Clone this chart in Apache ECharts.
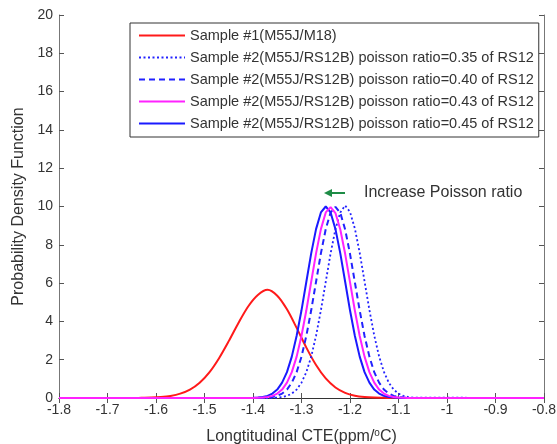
<!DOCTYPE html>
<html lang="en">
  <head>
    <meta charset="UTF-8" />
    <title>CTE PDF</title>
    <script src="https://cdn.jsdelivr.net/npm/echarts@6/dist/echarts.min.js"></script>
    <style>
      html, body { margin: 0; padding: 0; background: #fff; }
      #main { width: 557px; height: 444px; }
    </style>
  </head>
  <body>
    <div id="main"></div>
  </body>
  <script>
    // Sample #1 (M55J/M18)
    const redCte = [-1.8, -1.65, -1.63, -1.61, -1.59, -1.57, -1.55, -1.53, -1.51, -1.49, -1.47, -1.45, -1.43, -1.41, -1.39,
      -1.37, -1.35, -1.33, -1.31, -1.29, -1.27, -1.25, -1.23, -1.21, -1.19, -1.17, -1.15, -1.13, -1.11, -0.8];
    const redPdf = [0, 0, 0.01, 0.02, 0.05, 0.11, 0.23, 0.44, 0.8, 1.34, 2.08, 2.97, 3.92, 4.78, 5.38,
      5.65, 5.34, 4.63, 3.66, 2.63, 1.72, 1.02, 0.55, 0.27, 0.12, 0.05, 0.02, 0.01, 0, 0];

    // Sample #2 (M55J/RS12B), shared CTE grid
    const cteGrid = [-1.8,
      -1.40, -1.39, -1.38, -1.37, -1.36, -1.35, -1.34, -1.33, -1.32, -1.31,
      -1.30, -1.29, -1.28, -1.27, -1.26, -1.25, -1.24, -1.23, -1.22, -1.21,
      -1.20, -1.19, -1.18, -1.17, -1.16, -1.15, -1.14, -1.13, -1.12, -1.11,
      -1.10, -1.09, -1.08, -1.07,
      -0.8];
    const pdf035 = [0,
      0, 0, 0, 0, 0.01, 0.02, 0.05, 0.11, 0.23, 0.44,
      0.8, 1.35, 2.16, 3.25, 4.58, 6.07, 7.55, 8.82, 9.69, 10.05,
      9.72, 8.85, 7.58, 6.09, 4.6, 3.26, 2.17, 1.36, 0.8, 0.44,
      0.23, 0.11, 0.05, 0.02,
      0];
    const pdf040 = [0,
      0, 0, 0.01, 0.02, 0.05, 0.11, 0.23, 0.44, 0.8, 1.35,
      2.16, 3.25, 4.58, 6.07, 7.55, 8.82, 9.69, 9.98, 9.67, 8.8,
      7.53, 6.05, 4.57, 3.24, 2.16, 1.35, 0.8, 0.44, 0.23, 0.11,
      0.05, 0.02, 0.01, 0,
      0];
    const pdf043 = [0,
      0, 0.01, 0.02, 0.05, 0.11, 0.23, 0.44, 0.8, 1.35, 2.16,
      3.25, 4.58, 6.07, 7.55, 8.82, 9.69, 9.97, 9.66, 8.8, 7.53,
      6.05, 4.57, 3.24, 2.16, 1.35, 0.8, 0.44, 0.23, 0.11, 0.05,
      0.02, 0.01, 0, 0,
      0];
    const pdf045 = [0,
      0.01, 0.02, 0.05, 0.11, 0.23, 0.44, 0.8, 1.35, 2.16, 3.25,
      4.58, 6.07, 7.55, 8.82, 9.69, 10, 9.69, 8.82, 7.55, 6.07,
      4.58, 3.25, 2.16, 1.35, 0.8, 0.44, 0.23, 0.11, 0.05, 0.02,
      0.01, 0, 0, 0,
      0];

    const names = [
      "Sample #1(M55J/M18)",
      "Sample #2(M55J/RS12B) poisson ratio=0.35 of RS12",
      "Sample #2(M55J/RS12B) poisson ratio=0.40 of RS12",
      "Sample #2(M55J/RS12B) poisson ratio=0.43 of RS12",
      "Sample #2(M55J/RS12B) poisson ratio=0.45 of RS12",
    ];

    function pairs(xs, ys) {
      return xs.map((x, i) => [x, ys[i]]);
    }

    const font = "Arial, 'Liberation Sans', sans-serif";
    var myChart = echarts.init(document.getElementById("main"));

    var option = {
      animation: false,
      backgroundColor: "#fff",
      textStyle: { fontFamily: font },
      grid: { left: 59, right: 13, top: 15, bottom: 46, outerBoundsMode: "none", containLabel: false },
      legend: {
        data: names,
        orient: "vertical",
        left: 130,
        top: 23,
        padding: [5, 5, 6, 8],
        itemWidth: 46,
        itemHeight: 14,
        itemGap: 7,
        backgroundColor: "#fff",
        borderColor: "#333",
        borderWidth: 1,
        itemStyle: { opacity: 0 },
        textStyle: { fontSize: 14.5, color: "#333", fontFamily: font, lineHeight: 14 },
      },
      xAxis: [
        {
          type: "value",
          min: -1.8,
          max: -0.8,
          interval: 0.1,
          name: "Longtitudinal CTE(ppm/{sup|o}C)",
          nameLocation: "middle",
          nameGap: 30,
          nameTextStyle: {
            fontSize: 16,
            color: "#333",
            rich: { sup: { fontSize: 10, verticalAlign: "top", padding: [0, 0, 8, 0], color: "#333" } },
          },
          axisLine: { lineStyle: { color: "#777", width: 1 } },
          axisTick: { inside: true, length: 5, lineStyle: { color: "#555" } },
          axisLabel: {
            fontSize: 14,
            color: "#333",
            margin: 5,
            formatter: (v) => String(+v.toFixed(1)),
          },
          splitLine: { show: false },
        },
        {
          type: "value",
          position: "top",
          min: -1.8,
          max: -0.8,
          interval: 0.1,
          axisLine: { lineStyle: { color: "#333", width: 1 } },
          axisTick: { inside: true, length: 5, lineStyle: { color: "#555" } },
          axisLabel: { show: false },
          splitLine: { show: false },
        },
      ],
      yAxis: [
        {
          type: "value",
          min: 0,
          max: 20,
          interval: 2,
          name: "Probability Density Function",
          nameLocation: "middle",
          nameGap: 21,
          nameTextStyle: { fontSize: 16, color: "#333" },
          axisLine: { show: true, lineStyle: { color: "#777", width: 1 } },
          axisTick: { show: true, inside: true, length: 5, lineStyle: { color: "#555" } },
          axisLabel: { fontSize: 14, color: "#333", margin: 6 },
          splitLine: { show: false },
        },
        {
          type: "value",
          position: "right",
          min: 0,
          max: 20,
          interval: 2,
          axisLine: { show: true, lineStyle: { color: "#777", width: 1 } },
          axisTick: { show: true, inside: true, length: 5, lineStyle: { color: "#555" } },
          axisLabel: { show: false },
          splitLine: { show: false },
        },
      ],
      series: [
        {
          name: names[0],
          type: "line",
          symbol: "none",
          smooth: 0.3,
          z: 2,
          data: pairs(redCte, redPdf),
          lineStyle: { color: "#ff1a1a", width: 2 },
          itemStyle: { color: "#ff1a1a" },
        },
        {
          name: names[1],
          type: "line",
          symbol: "none",
          z: 2,
          data: pairs(cteGrid, pdf035),
          lineStyle: { color: "#2222ff", width: 1.8, type: [2, 2.5] },
          itemStyle: { color: "#2222ff" },
        },
        {
          name: names[2],
          type: "line",
          symbol: "none",
          z: 2,
          data: pairs(cteGrid, pdf040),
          lineStyle: { color: "#2222ff", width: 2, type: [6, 4] },
          itemStyle: { color: "#2222ff" },
        },
        {
          name: names[3],
          type: "line",
          symbol: "none",
          z: 4,
          data: pairs(cteGrid, pdf043),
          lineStyle: { color: "#ff22ff", width: 2 },
          itemStyle: { color: "#ff22ff" },
        },
        {
          name: names[4],
          type: "line",
          symbol: "none",
          z: 3,
          data: pairs(cteGrid, pdf045),
          lineStyle: { color: "#1a1aff", width: 2 },
          itemStyle: { color: "#1a1aff" },
        },
      ],
      graphic: [
        {
          type: "line",
          shape: { x1: 330, y1: 193, x2: 345, y2: 193 },
          style: { stroke: "#1e8c46", lineWidth: 2 },
        },
        {
          type: "polygon",
          shape: { points: [[324, 193], [332, 189], [332, 197]] },
          style: { fill: "#1e8c46" },
        },
        {
          type: "text",
          left: 364,
          top: 185,
          style: { text: "Increase Poisson ratio", fontSize: 16, fill: "#333", fontFamily: font },
        },
      ],
    };
    option && myChart.setOption(option);
  </script>
</html>
